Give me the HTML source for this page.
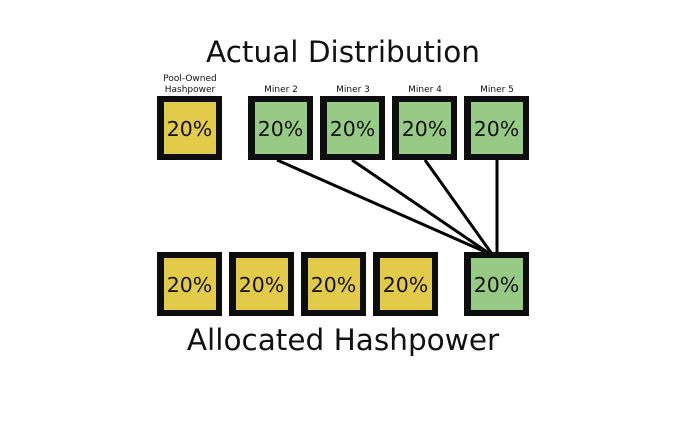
<!DOCTYPE html>
<html><head><style>
body{margin:0;width:687px;height:422px;background:#fff;overflow:hidden}
</style></head><body>
<svg width="687" height="422" xmlns="http://www.w3.org/2000/svg" font-family="DejaVu Sans, sans-serif">
<rect width="687" height="422" fill="#fff"/>
<text x="343" y="62" font-size="29.5" text-anchor="middle" fill="#111">Actual Distribution</text>
<text x="343" y="350" font-size="29.5" text-anchor="middle" fill="#111">Allocated Hashpower</text>
<g font-size="9" text-anchor="middle" fill="#111">
<text x="190" y="81">Pool-Owned</text>
<text x="190" y="92">Hashpower</text>
<text x="281" y="92">Miner 2</text>
<text x="353" y="92">Miner 3</text>
<text x="425" y="92">Miner 4</text>
<text x="497" y="92">Miner 5</text>
</g>
<g stroke="#000" stroke-width="3">
<line x1="277" y1="160" x2="490" y2="254"/>
<line x1="352" y1="160" x2="490" y2="254"/>
<line x1="425" y1="160" x2="492" y2="254"/>
<line x1="497" y1="160" x2="497" y2="254"/>
</g>
<defs>
<g id="y"><rect width="65" height="64" fill="#0d0d0d"/><rect x="7" y="6" width="52" height="52" fill="#e3cb4a"/><text x="32.5" y="40" font-size="20.5" text-anchor="middle" fill="#111">20%</text></g>
<g id="g"><rect width="65" height="64" fill="#0d0d0d"/><rect x="7" y="6" width="52" height="52" fill="#97cb85"/><text x="32.5" y="40" font-size="20.5" text-anchor="middle" fill="#111">20%</text></g>
</defs>
<use href="#y" x="157" y="96"/>
<use href="#g" x="248" y="96"/>
<use href="#g" x="320" y="96"/>
<use href="#g" x="392" y="96"/>
<use href="#g" x="464" y="96"/>
<use href="#y" x="157" y="252"/>
<use href="#y" x="229" y="252"/>
<use href="#y" x="301" y="252"/>
<use href="#y" x="373" y="252"/>
<use href="#g" x="464" y="252"/>
</svg>
</body></html>
